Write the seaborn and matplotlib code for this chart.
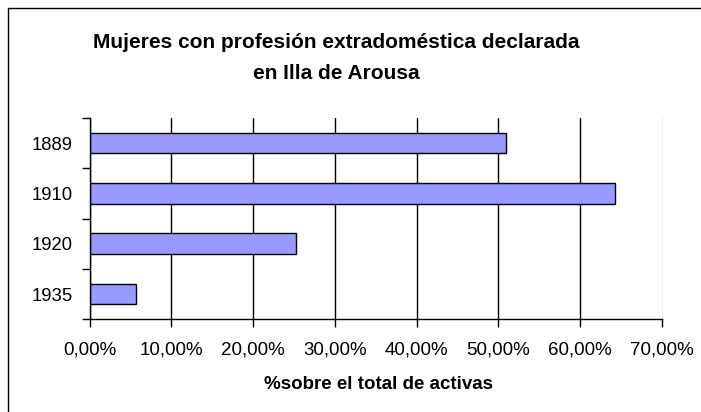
import matplotlib
matplotlib.use('Agg')
import matplotlib.pyplot as plt
from matplotlib.lines import Line2D
import pandas as pd
import seaborn as sns

# Data
years = ['1889', '1910', '1920', '1935']
share = [0.509, 0.642, 0.252, 0.057]
x_ticks = [0.0, 0.1, 0.2, 0.3, 0.4, 0.5, 0.6, 0.7]
x_tick_labels = ['0,00%', '10,00%', '20,00%', '30,00%', '40,00%', '50,00%', '60,00%', '70,00%']

df = pd.DataFrame({'year': years, 'share': share})

sns.set_style('white')
plt.rcParams['font.family'] = ['Liberation Sans', 'DejaVu Sans']
plt.rcParams['text.color'] = 'black'
plt.rcParams['xtick.color'] = 'black'
plt.rcParams['ytick.color'] = 'black'

fig = plt.figure(figsize=(7.01, 4.12), dpi=100)
ax = fig.add_axes([0.1277, 0.225, 0.8167, 0.4886])

sns.barplot(data=df, x='share', y='year', order=years, orient='h',
            color='#9999FF', edgecolor='black', linewidth=1, width=0.41,
            saturation=1, ax=ax)

ax.set_xlim(0, 0.7)
ax.set_ylim(3.5, -0.5)
ax.set_xticks(x_ticks)
ax.set_xticklabels(x_tick_labels, fontsize=13.5)
ax.set_ylabel('')
ax.set_xlabel('')

# Excel style ticks: x ticks out, y ticks between categories
ax.tick_params(axis='x', direction='out', length=6, width=1, color='black', pad=10, bottom=True)
ax.tick_params(axis='y', which='major', length=0, pad=12, labelsize=13.3)
ax.set_yticks([-0.5, 0.5, 1.5, 2.5, 3.5], minor=True)
ax.tick_params(axis='y', which='minor', direction='out', length=6, width=1, color='black', left=True)

ax.grid(axis='x', color='black', linewidth=1)
ax.xaxis.get_gridlines()[-1].set_visible(False)
ax.set_axisbelow(True)

for side in ['left', 'bottom']:
    ax.spines[side].set_color('black')
    ax.spines[side].set_linewidth(1)
ax.spines['top'].set_visible(False)
ax.spines['right'].set_color('#eeeeee')

fig.text(336 / 701, 1 - 48.5 / 412, 'Mujeres con profesión extradoméstica declarada',
         ha='center', va='baseline', fontsize=15, fontweight='bold')
fig.text(336 / 701, 1 - 79 / 412, 'en Illa de Arousa',
         ha='center', va='baseline', fontsize=15, fontweight='bold')
fig.text(379 / 701, 1 - 389 / 412, '%sobre el total de activas',
         ha='center', va='baseline', fontsize=13.5, fontweight='bold')

# outer chart frame (cropped at right and bottom)
fig.add_artist(Line2D([8 / 701, 8 / 701], [0, 1 - 8 / 412], color='black', linewidth=1))
fig.add_artist(Line2D([8 / 701, 1], [1 - 8 / 412, 1 - 8 / 412], color='black', linewidth=1))

fig.savefig('out.png', dpi=100)
